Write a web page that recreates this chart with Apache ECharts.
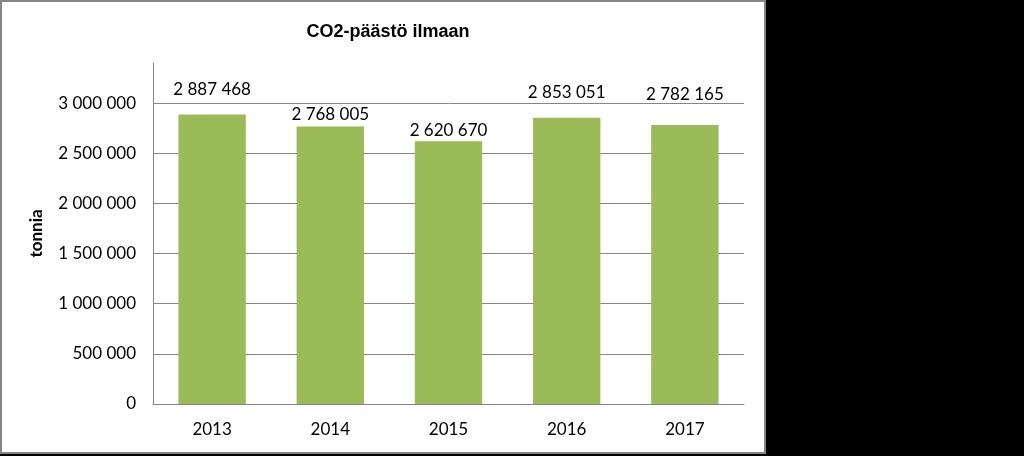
<!DOCTYPE html>
<html>
<head>
<meta charset="utf-8">
<script src="https://cdn.jsdelivr.net/npm/echarts@6/dist/echarts.min.js"></script>
<style>
html,body{margin:0;padding:0;background:#000;}
#c{width:1024px;height:456px;}
</style>
</head>
<body>
<div id="c"></div>
<script>
const title = 'CO2-päästö ilmaan';
const yAxisName = 'tonnia';
const categories = ['2013', '2014', '2015', '2016', '2017'];
const values = [2887468, 2768005, 2620670, 2853051, 2782165];

// label lift above bar (style only)
const labelLift = [16, 3, 2, 17, 22];

function fmt(v) {
  return String(Math.round(v)).replace(/\B(?=(\d{3})+(?!\d))/g, ' ');
}

const chart = echarts.init(document.getElementById('c'), null, {renderer: 'canvas'});
chart.setOption({
  backgroundColor: '#000',
  animation: false,
  graphic: [{
    type: 'rect', z: -10, silent: true,
    shape: {x: 1, y: 1, width: 764, height: 452},
    style: {fill: '#fff', stroke: '#868686', lineWidth: 2}
  }],
  title: {
    text: title,
    left: 383, top: 18, textAlign: 'center',
    textStyle: {fontFamily: 'Liberation Sans, Arial', fontWeight: 'bold', fontSize: 18, color: '#000'}
  },
  grid: {left: 153, right: 280, top: 63, bottom: 52},
  xAxis: {
    type: 'category',
    data: categories,
    axisLine: {lineStyle: {color: '#868686', width: 1}},
    axisTick: {show: false},
    axisLabel: {color: '#000', fontFamily: 'Lato', fontSize: 17, margin: 17}
  },
  yAxis: {
    type: 'value',
    min: 0, max: 3400000, interval: 500000,
    name: yAxisName,
    nameLocation: 'middle',
    nameGap: 108,
    nameRotate: 90,
    nameTextStyle: {fontFamily: 'Lato', fontWeight: 'bold', fontSize: 17, color: '#000'},
    axisLine: {show: true, lineStyle: {color: '#868686', width: 1}},
    axisTick: {show: false},
    splitLine: {show: true, showMaxLine: false, lineStyle: {color: '#868686', width: 1}},
    axisLabel: {
      color: '#000', fontFamily: 'Lato', fontSize: 17, margin: 17,
      showMaxLabel: false,
      formatter: v => fmt(v)
    }
  },
  series: [{
    type: 'bar',
    barWidth: '57%',
    itemStyle: {color: '#9BBB59'},
    data: values.map((v, i) => ({
      value: v,
      label: {distance: labelLift[i]}
    })),
    label: {
      show: true, position: 'top',
      color: '#000', fontFamily: 'Lato', fontSize: 17,
      formatter: p => fmt(p.value)
    }
  }]
});
</script>
</body>
</html>
